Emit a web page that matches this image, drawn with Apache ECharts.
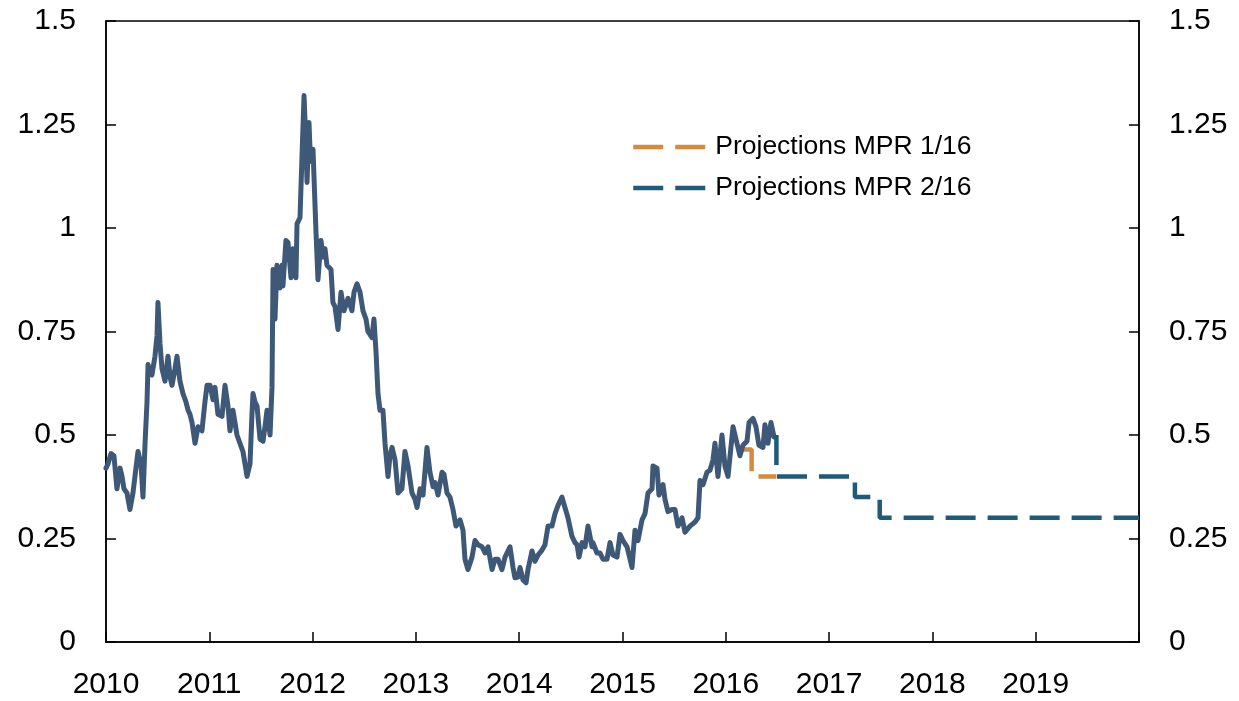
<!DOCTYPE html>
<html>
<head>
<meta charset="utf-8">
<script src="https://cdn.jsdelivr.net/npm/echarts@6/dist/echarts.min.js"></script>
<style>
  html, body { margin: 0; padding: 0; background: #fff; }
  #chart { width: 1239px; height: 701px; }
</style>
</head>
<body>
<div id="chart"></div>
<script>
// x values are years since 2010
var histData = [
  [0,.42],[.019,.43],[.048,.455],[.077,.45],[.106,.37],[.136,.42],[.155,.40],[.174,.37],[.203,.36],[.232,.32],
  [.261,.36],[.290,.42],[.310,.46],[.339,.43],[.358,.35],[.378,.48],[.397,.58],[.407,.67],[.426,.65],[.445,.645],
  [.474,.69],[.494,.74],[.503,.82],[.523,.72],[.542,.66],[.571,.63],[.600,.69],[.620,.64],[.639,.62],[.668,.66],
  [.687,.69],[.716,.63],[.745,.60],[.774,.58],[.794,.56],[.813,.55],[.833,.53],[.862,.48],[.891,.52],[.929,.51],
  [.958,.58],[.978,.62],[1.007,.62],[1.036,.585],[1.055,.615],[1.084,.55],[1.123,.545],[1.152,.62],[1.181,.57],[1.200,.51],
  [1.229,.56],[1.268,.50],[1.297,.48],[1.326,.46],[1.346,.43],[1.365,.40],[1.394,.43],[1.413,.55],[1.423,.60],[1.442,.58],
  [1.462,.57],[1.491,.49],[1.520,.485],[1.539,.52],[1.559,.56],[1.588,.50],[1.607,.615],[1.617,.90],[1.636,.78],[1.655,.91],
  [1.684,.855],[1.704,.91],[1.713,.86],[1.742,.97],[1.762,.965],[1.791,.88],[1.810,.95],[1.839,.88],[1.849,1.01],[1.878,1.025],
  [1.897,1.17],[1.917,1.32],[1.936,1.20],[1.946,1.11],[1.965,1.255],[1.975,1.19],[1.994,1.16],[2.004,1.19],[2.033,.99],[2.052,.875],
  [2.081,.97],[2.101,.93],[2.120,.95],[2.139,.91],[2.178,.90],[2.197,.82],[2.217,.81],[2.246,.755],[2.275,.845],[2.304,.80],
  [2.343,.83],[2.381,.80],[2.401,.845],[2.430,.865],[2.459,.845],[2.488,.80],[2.517,.78],[2.536,.75],[2.575,.735],[2.594,.78],
  [2.614,.70],[2.633,.60],[2.652,.56],[2.681,.56],[2.701,.48],[2.730,.40],[2.749,.45],[2.769,.47],[2.798,.44],[2.827,.36],
  [2.865,.37],[2.894,.46],[2.924,.425],[2.962,.36],[2.991,.345],[3.011,.325],[3.040,.37],[3.069,.355],[3.107,.47],[3.136,.41],
  [3.166,.375],[3.185,.385],[3.214,.355],[3.253,.41],[3.272,.405],[3.301,.36],[3.330,.35],[3.359,.32],[3.388,.28],[3.427,.295],
  [3.456,.27],[3.475,.20],[3.504,.175],[3.543,.205],[3.572,.245],[3.601,.235],[3.640,.23],[3.669,.215],[3.698,.23],[3.737,.175],
  [3.766,.20],[3.795,.20],[3.833,.175],[3.863,.205],[3.882,.215],[3.911,.23],[3.940,.18],[3.959,.155],[3.988,.157],[4.008,.18],
  [4.037,.15],[4.066,.143],[4.085,.175],[4.124,.22],[4.153,.195],[4.182,.21],[4.221,.222],[4.250,.235],[4.279,.28],[4.317,.28],
  [4.347,.31],[4.376,.33],[4.414,.35],[4.443,.325],[4.472,.30],[4.511,.255],[4.540,.24],[4.560,.235],[4.579,.205],[4.608,.24],
  [4.637,.23],[4.666,.28],[4.705,.23],[4.714,.24],[4.753,.215],[4.782,.215],[4.811,.20],[4.850,.20],[4.879,.24],[4.908,.21],
  [4.947,.205],[4.976,.26],[5.005,.245],[5.044,.23],[5.073,.20],[5.092,.18],[5.121,.27],[5.150,.245],[5.189,.295],[5.218,.31],
  [5.247,.36],[5.286,.37],[5.295,.425],[5.334,.42],[5.353,.355],[5.392,.38],[5.411,.345],[5.440,.315],[5.479,.32],[5.508,.32],
  [5.537,.28],[5.576,.30],[5.605,.265],[5.653,.28],[5.702,.29],[5.731,.30],[5.750,.39],[5.779,.38],[5.818,.41],[5.847,.415],
  [5.876,.44],[5.895,.48],[5.924,.40],[5.963,.50],[5.992,.425],[6.021,.40],[6.070,.52],[6.108,.48],[6.137,.45],[6.166,.475],
  [6.205,.485],[6.225,.53],[6.263,.54],[6.292,.52],[6.321,.475],[6.360,.47],[6.379,.525],[6.408,.48],[6.437,.53],[6.467,.495]
];
var mpr116 = [[6.17,.465],[6.25,.465],[6.25,.40],[6.49,.40]];
var mpr216 = [[6.49,.50],[6.49,.40],[7.25,.40],[7.25,.35],[7.49,.35],[7.49,.30],[10,.30]];
var seriesNames = ['Projections MPR 1/16', 'Projections MPR 2/16'];
var yTicks = { min: 0, max: 1.5, interval: 0.25 };

var chart = echarts.init(document.getElementById('chart'));
var font = 'Liberation Sans, Arial, Helvetica, sans-serif';
var dash = [30, 12];

function yAxisCfg(pos) {
  return {
    type: 'value',
    position: pos,
    min: yTicks.min, max: yTicks.max, interval: yTicks.interval,
    splitLine: { show: false },
    axisLine: { show: true, lineStyle: { color: '#000', width: 1.5 } },
    axisTick: { show: true, inside: true, length: 10, lineStyle: { color: '#000', width: 1.5 } },
    axisLabel: { color: '#000', fontSize: 30, fontFamily: font, margin: 30 }
  };
}

chart.setOption({
  animation: false,
  grid: { left: 106, right: 100, top: 21, bottom: 59, show: true, borderColor: '#000', borderWidth: 1.5 },
  legend: {
    data: seriesNames,
    orient: 'vertical',
    left: 626, top: 128,
    itemWidth: 72, itemHeight: 14, itemGap: 13,
    itemStyle: { opacity: 0 },
    lineStyle: { width: 4.5, type: dash },
    textStyle: { color: '#000', fontSize: 26.5, fontFamily: font, lineHeight: 28, padding: [0, 0, 0, 5] }
  },
  xAxis: {
    type: 'value',
    min: 0, max: 10, interval: 1,
    splitLine: { show: false },
    axisLine: { show: true, lineStyle: { color: '#000', width: 1.5 } },
    axisTick: { show: true, inside: true, length: 10, lineStyle: { color: '#000', width: 1.5 } },
    axisLabel: {
      color: '#000', fontSize: 30, fontFamily: font, margin: 28,
      formatter: function (v) { return v < 10 ? String(2010 + v) : ''; }
    }
  },
  yAxis: [yAxisCfg('left'), yAxisCfg('right')],
  series: [
    {
      type: 'line', data: histData, showSymbol: false, symbol: 'none',
      lineStyle: { color: '#3e5878', width: 5, join: 'round', cap: 'round' }, z: 3
    },
    {
      name: seriesNames[0], type: 'line', data: mpr116, symbol: 'none',
      itemStyle: { color: '#d48b3e' },
      lineStyle: { color: '#d48b3e', width: 4.5, type: dash }, z: 2
    },
    {
      name: seriesNames[1], type: 'line', data: mpr216, symbol: 'none',
      itemStyle: { color: '#1f5a79' },
      lineStyle: { color: '#1f5a79', width: 4.5, type: dash }, z: 4
    }
  ]
});
</script>
</body>
</html>
